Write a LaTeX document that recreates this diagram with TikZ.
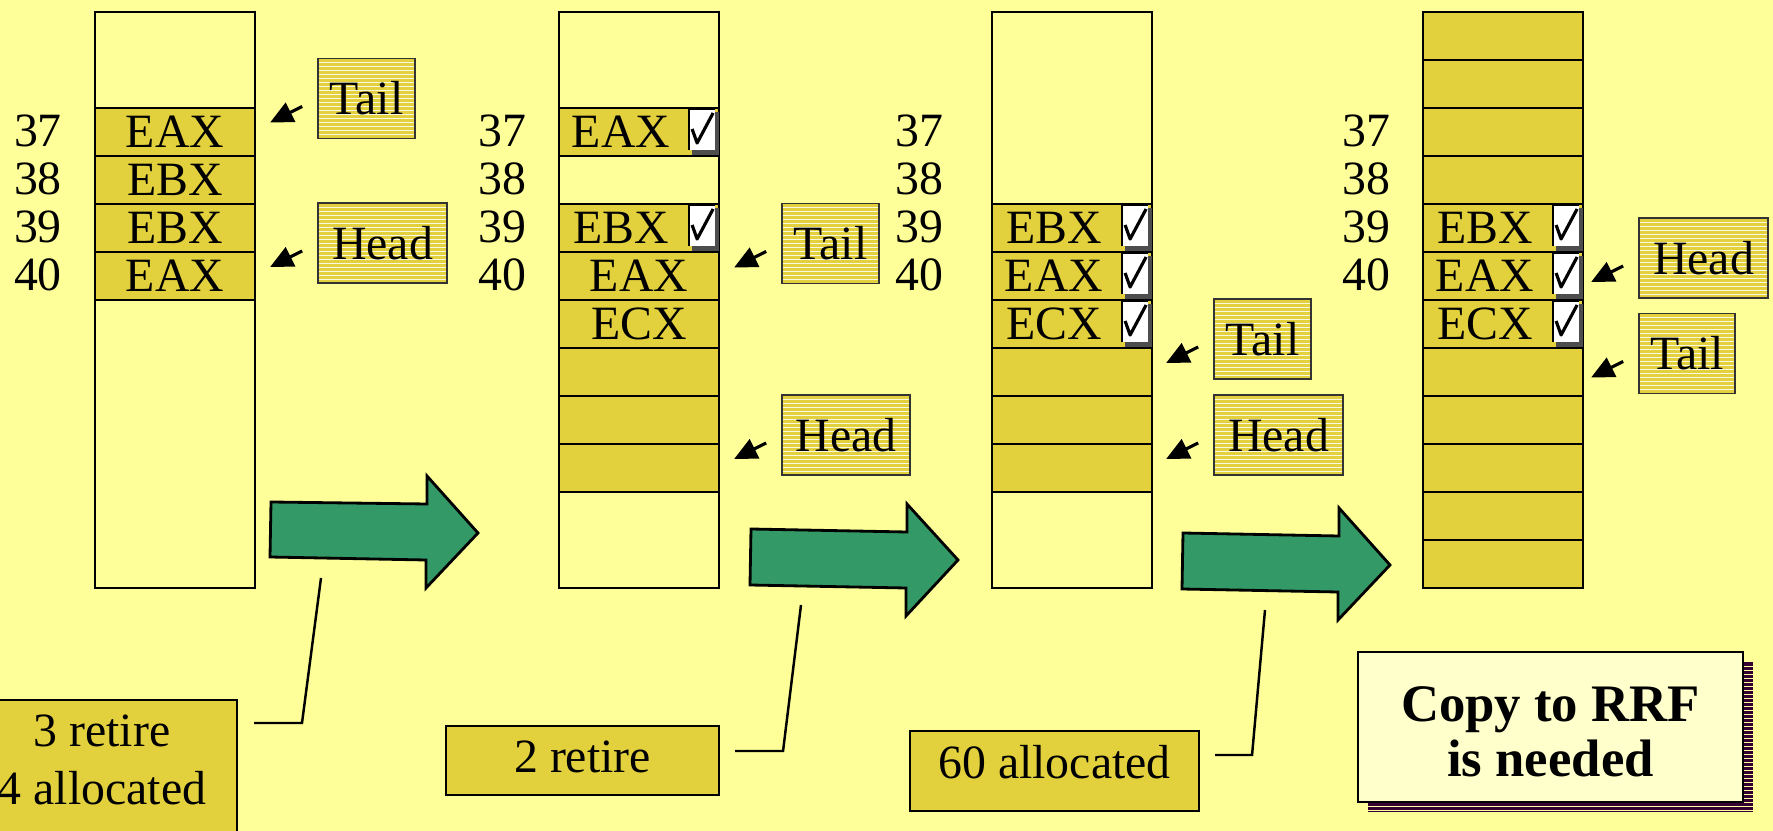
\documentclass[tikz,border=0pt]{standalone}
\usepackage{fontspec}
\setmainfont{Liberation Serif}
\usetikzlibrary{arrows.meta}
\definecolor{paper}{HTML}{FFFF99}
\definecolor{gold}{HTML}{E2D03C}
\definecolor{go}{HTML}{339966}
\definecolor{cream}{HTML}{FFFFCC}
\definecolor{plum}{HTML}{330033}
\definecolor{bevel}{HTML}{4D4D4D}

\begin{document}
\begin{tikzpicture}[x=0.1mm,y=-0.1mm,
  every node/.style={font=\fontsize{13.6}{16.5}\selectfont, inner sep=0pt},
  stripes/.style={path picture={
    \foreach \k in {1,...,45}{
      \draw[#1,line width=0.18pt]
        ([yshift=-\k*1.14pt]path picture bounding box.north west) --
        ([yshift=-\k*1.14pt]path picture bounding box.north east);}}},
  column/.style={draw, line width=0.6pt, minimum width=16mm, minimum height=57.6mm, anchor=north west},
  cell/.style={draw, fill=gold, line width=0.6pt, minimum width=16mm, minimum height=4.8mm, anchor=north west},
  tag/.style={draw=black!80, fill=gold, stripes=white!85!gold, line width=0.5pt, minimum height=8mm},
  ptr/.style={line width=0.9pt, -{Triangle[length=6.5pt,width=6pt]}},
  note/.style={draw, fill=gold, line width=0.6pt},
  lead/.style={line width=0.7pt},
  bigarrow/.style={draw, fill=go, line width=0.8pt, line join=miter},
  tickbox/.pic={
    \fill[bevel] (-28,5) rectangle (-1,48);
    \fill[white] (-31,2) rectangle (-5,43);
    \draw[line width=0.6pt] (-31,43) -- (-31,2) -- (-5,2);
    \draw[line width=0.9pt, line join=round] (-28,22) -- (-23,36) -- (-7,6);
  }
]
\useasboundingbox (0,0) rectangle (1773,831);
\clip (0,0) rectangle (1773,831);
\fill[paper] (0,0) rectangle (1773,831);

% reorder-buffer columns
\node[column] (colA) at (94,11) {};
\node[column] (colB) at (558,11) {};
\node[column] (colC) at (991,11) {};
\node[column] (colD) at (1422,11) {};

% room left for the check box in a retired entry
\newcommand\tickgap{\rule{3.6mm}{0pt}}

% column A entries
\foreach \k/\t in {2/EAX,3/EBX,4/EBX,5/EAX}
  \node[cell] (a\k) at (94,{11+48*\k}) {\t};

% column B entries
\node[cell] (b2) at (558,107) {EAX\tickgap};
\node[cell] (b4) at (558,203) {EBX\tickgap};
\node[cell] (b5) at (558,251) {EAX};
\node[cell] (b6) at (558,299) {ECX};
\foreach \k in {7,8,9}
  \node[cell] (b\k) at (558,{11+48*\k}) {};

% column C entries
\node[cell] (c4) at (991,203) {EBX\tickgap};
\node[cell] (c5) at (991,251) {EAX\tickgap};
\node[cell] (c6) at (991,299) {ECX\tickgap};
\foreach \k in {7,8,9}
  \node[cell] (c\k) at (991,{11+48*\k}) {};

% column D: every slot in use
\foreach \k in {0,1,2,3,7,8,9,10,11}
  \node[cell] (d\k) at (1422,{11+48*\k}) {};
\node[cell] (d4) at (1422,203) {EBX\tickgap};
\node[cell] (d5) at (1422,251) {EAX\tickgap};
\node[cell] (d6) at (1422,299) {ECX\tickgap};

% retirement check boxes
\foreach \n in {b2,b4,c4,c5,c6,d4,d5,d6}
  \pic at (\n.north east) {tickbox};

% entry numbers
\foreach \k/\n in {2/37,3/38,4/39,5/40}{
  \node (lA\n) at (38,{35+48*\k}) {\n};
  \node (lB\n) at (502,{35+48*\k}) {\n};
  \node (lC\n) at (919,{35+48*\k}) {\n};
  \node (lD\n) at (1366,{35+48*\k}) {\n};
}

% head / tail pointers
\node[tag, minimum width=9.7mm]  (tailA) at (366.5,98.5) {Tail};
\node[tag, minimum width=12.9mm] (headA) at (382.5,243) {Head};
\node[tag, minimum width=9.7mm]  (tailB) at (830.5,243.5) {Tail};
\node[tag, minimum width=12.8mm] (headB) at (846,435) {Head};
\node[tag, minimum width=9.7mm]  (tailC) at (1262.5,339) {Tail};
\node[tag, minimum width=12.9mm] (headC) at (1278.5,435) {Head};
\node[tag, minimum width=12.9mm] (headD) at (1703.5,258) {Head};
\node[tag, minimum width=9.6mm]  (tailD) at (1687,353.5) {Tail};

\foreach \n in {tailA,headA,tailB,headB,tailC,headC,headD,tailD}
  \draw[ptr] ([shift={(-15,8)}]\n.west) -- ++(-32,16);

% step arrows
\draw[bigarrow] (271,502) -- (427,504) -- (427,476) -- (478,533) -- (426,588) -- (426,560) -- (270,557) -- cycle;
\draw[bigarrow] (751,529) -- (907,532) -- (907,504) -- (958,560) -- (906,616) -- (906,588) -- (750,585) -- cycle;
\draw[bigarrow] (1183,533) -- (1339,536) -- (1339,508) -- (1390,565) -- (1338,620) -- (1338,592) -- (1182,589) -- cycle;

% step notes with callout leaders
\node[note, anchor=north east, minimum width=27.2mm, minimum height=16mm] (note1) at (238,699) {};
\node[align=center] (note1txt) at (102,760) {3 retire\\4 allocated};
\node[note, minimum width=27.3mm, minimum height=6.9mm, text height=3.2mm, text depth=0.7mm] (note2) at (582.5,760.5) {2 retire};
\node[note, minimum width=28.9mm, minimum height=8mm, text height=3.2mm, text depth=1.6mm] (note3) at (1054.5,771) {60 allocated};

\coordinate (end1) at (321,578);
\coordinate (end2) at (801,605);
\coordinate (end3) at (1265,610);
\draw[lead] ([shift={(16,24)}]note1.north east) -- ++(48,0) -- (end1);
\draw[lead] ([shift={(15,-9.5)}]note2.east) -- ++(48,0) -- (end2);
\draw[lead] ([shift={(15,-16)}]note3.east) -- ++(37,0) -- (end3);

% conclusion box with striped shadow
\path[fill=plum, stripes=paper] (1368,662) rectangle (1753,812);
\node[draw, fill=cream, line width=0.8pt, minimum width=38.5mm, minimum height=15mm,
      align=center, font=\fontsize{15}{15.6}\selectfont\bfseries] (copy) at (1550.5,727)
      {\rule{0pt}{4.5mm}Copy to RRF\\is needed};
\end{tikzpicture}
\end{document}
